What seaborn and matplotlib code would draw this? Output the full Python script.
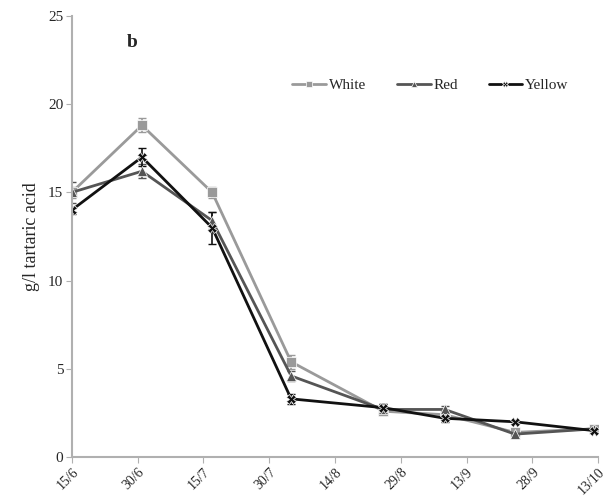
import pandas as pd
import matplotlib
matplotlib.use("Agg")
import matplotlib.pyplot as plt
import seaborn as sns

# sampling days counted from 15/6
days = [0, 16, 32, 50, 71, 85, 101, 119]
white = [15.0, 18.8, 15.0, 5.4, 2.6, 2.4, 1.4, 1.6]
red = [15.0, 16.2, 13.4, 4.6, 2.7, 2.7, 1.3, 1.6]
yellow = [14.0, 17.0, 13.0, 3.3, 2.8, 2.2, 2.0, 1.5]
white_err = [0.3, 0.4, 0.3, 0.4, 0.2, 0.2, 0.1, 0.1]
red_err = [0.6, 0.4, 0.5, 0.3, 0.3, 0.2, 0.1, 0.1]
yellow_err = [0.2, 0.5, 0.9, 0.3, 0.2, 0.2, 0.1, 0.1]

tick_days = [0, 15, 30, 45, 60, 75, 90, 105, 120]
tick_labels = ["15/6", "30/6", "15/7", "30/7", "14/8", "29/8", "13/9", "28/9", "13/10"]

df = pd.DataFrame({
    "Day": days * 3,
    "Value": white + red + yellow,
    "Err": white_err + red_err + yellow_err,
    "Colour": ["White"] * 8 + ["Red"] * 8 + ["Yellow"] * 8,
})

sns.set_style("white")
plt.rcParams["font.family"] = ["Liberation Serif", "DejaVu Serif"]

palette = {"White": "#9a9a9a", "Red": "#555555", "Yellow": "#111111"}
markers = {"White": "s", "Red": "^", "Yellow": "X"}

fig = plt.figure(figsize=(6.08, 4.99), dpi=100)
ax = fig.add_axes([0.118, 0.084, 0.866, 0.884])

for name, grp in df.groupby("Colour", sort=False):
    ax.errorbar(grp["Day"], grp["Value"], yerr=grp["Err"], fmt="none",
                ecolor=palette[name], elinewidth=1.2, capsize=3, zorder=1)

sns.lineplot(data=df, x="Day", y="Value", hue="Colour", style="Colour",
             palette=palette, markers=markers, dashes=False, linewidth=2,
             markersize=7, markeredgewidth=0.5, ax=ax, zorder=2)

ax.set_xlim(0, 120)
ax.set_ylim(0, 25)
ax.set_xticks(tick_days)
ax.set_xticklabels(tick_labels, rotation=45, ha="right", rotation_mode="anchor",
                   fontsize=10)
ax.set_yticks([0, 5, 10, 15, 20, 25])
ax.tick_params(axis="y", labelsize=11)
ax.set_xlabel("")
ax.set_ylabel("g/l tartaric acid", fontsize=13, labelpad=6)

for s in ["top", "right"]:
    ax.spines[s].set_visible(False)
for s in ["left", "bottom"]:
    ax.spines[s].set_color("#b0b0b0")
    ax.spines[s].set_linewidth(1.5)
ax.tick_params(axis="both", direction="out", length=4, color="#b0b0b0",
               bottom=True, left=True, pad=2)

ax.text(0.105, 0.94, "b", transform=ax.transAxes, fontsize=14,
        fontweight="bold", va="center")

ax.legend(loc="upper right", bbox_to_anchor=(0.97, 0.89), ncol=3, frameon=False,
          fontsize=11, handlelength=2.2, handletextpad=0.2, columnspacing=2.0,
          markerscale=0.6, title=None)

fig.savefig("out.png", dpi=100)
